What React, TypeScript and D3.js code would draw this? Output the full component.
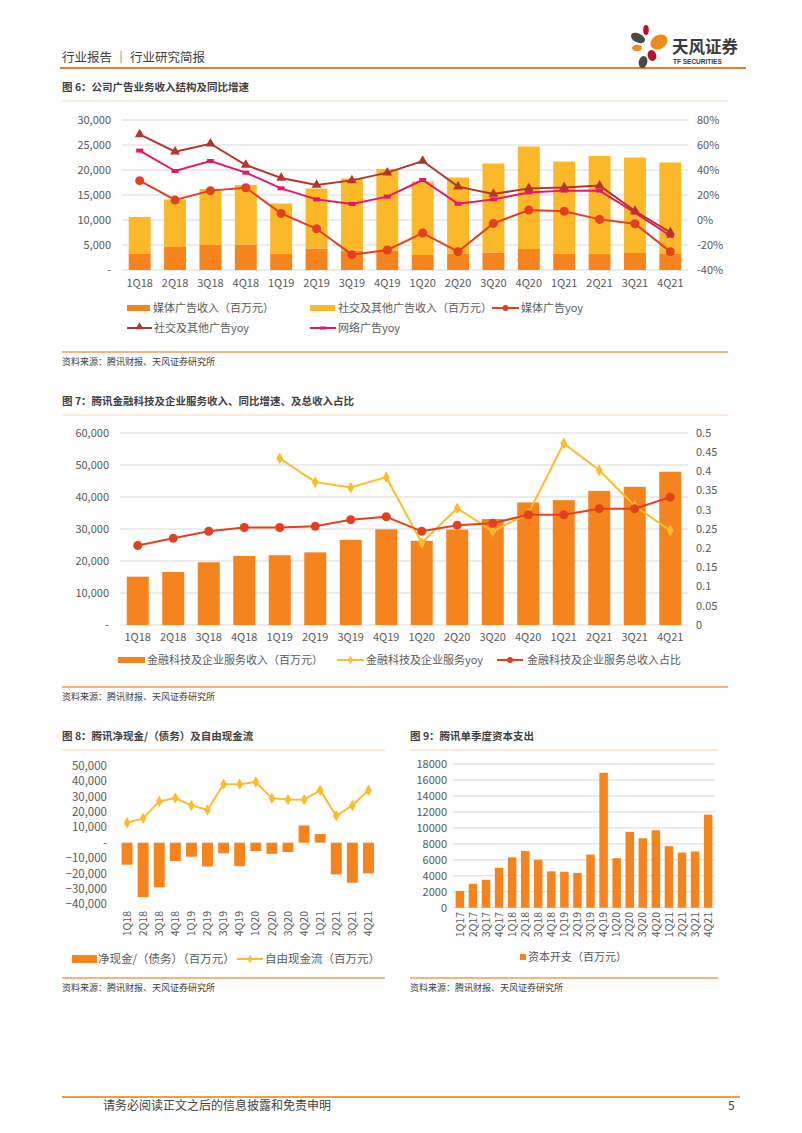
import React from "react";
import * as d3 from "d3";

// ---------- DATA ----------
const q16 = ["1Q18","2Q18","3Q18","4Q18","1Q19","2Q19","3Q19","4Q19","1Q20","2Q20","3Q20","4Q20","1Q21","2Q21","3Q21","4Q21"];
const q20 = ["1Q17","2Q17","3Q17","4Q17", ...q16];

// Fig 6
const mediaAdRev = [3200,4600,5000,5100,3300,4300,3900,3900,3000,3300,3500,4200,3300,3300,3400,3200];
const socialAdRev = [7400,9500,11200,11900,10000,12000,14400,16300,14700,15200,17800,20500,18400,19500,19100,18300];
const mediaAdYoy = [31.5,16,23.5,25.8,5.3,-7,-27.7,-24,-10.4,-25.3,-2.7,8,7,0.5,-3,-25.3];
const socialAdYoy = [68.5,54.7,61,44,33.6,28,31.7,37.9,47.2,26.7,20.8,25.3,26,27.5,7.2,-9.9];
const netAdYoy = [55.5,39.2,47.2,37.9,25.3,16.5,12.8,18.7,32,13,16.5,22,23.5,23.5,5.9,-12.6];
const fig6LeftTicks = [0,5000,10000,15000,20000,25000,30000];
const fig6RightTicks = [-40,-20,0,20,40,60,80];

// Fig 7
const fintechRev = [15100,16600,19600,21600,21800,22700,26600,29900,26300,29800,33100,38300,39000,41900,43200,47900];
const fintechYoy = [null,null,null,null,0.434,0.372,0.358,0.385,0.214,0.304,0.244,0.29,0.473,0.403,0.31,0.246];
const fintechShare = [0.207,0.226,0.244,0.254,0.254,0.257,0.274,0.282,0.244,0.26,0.265,0.287,0.287,0.303,0.303,0.333];
const fig7LeftTicks = [0,10000,20000,30000,40000,50000,60000];
const fig7RightTicks = [0,0.05,0.1,0.15,0.2,0.25,0.3,0.35,0.4,0.45,0.5];

// Fig 8
const netCash = [-14300,-35300,-29000,-11900,-9100,-15400,-6900,-15200,-5400,-7200,-6100,11200,5600,-20600,-26000,-19900];
const freeCashFlow = [13000,15800,26800,29000,24200,21200,38000,38000,39400,28800,28100,27900,34000,17500,24200,34000];
const fig8Ticks = [-40000,-30000,-20000,-10000,0,10000,20000,30000,40000,50000];

// Fig 9
const capex = [2100,3000,3500,5000,6300,7100,6000,4550,4500,4350,6650,16900,6200,9500,8700,9700,7700,6900,7050,11650];
const fig9Ticks = [0,2000,4000,6000,8000,10000,12000,14000,16000,18000];

// ---------- STYLE ----------
const FONT = "'Noto Sans CJK SC', 'Noto Sans', sans-serif";
const AX = "#595959";
const GRID = "#d9d9d9";
const ORANGE = "#f5841f";
const GOLD = "#fbb829";
const RED = "#e2401f";
const DARKRED = "#b2362b";
const PINK = "#e5176b";
const YELLOW = "#fbbd2b";
const fmt = (v: number) => (v === 0 ? "-" : d3.format(",")(v));

function Header() {
  return (
    <g>
      <text x={62} y={62} fontSize={12.5} fill="#404040" fontFamily={FONT}>行业报告 ｜ 行业研究简报</text>
      <line x1={60} x2={746} y1={68} y2={68} stroke="#e97c28" strokeWidth={2} />
      {/* logo */}
      <ellipse cx={638} cy={38} rx={7.5} ry={4.5} transform="rotate(25 638 38)" fill="#4a4a4a" />
      <ellipse cx={646} cy={30} rx={2.8} ry={5} fill="#b5122e" />
      <ellipse cx={659} cy={42} rx={9} ry={7} transform="rotate(-30 659 42)" fill="#f08a1d" />
      <ellipse cx={637} cy={48} rx={5} ry={3.3} fill="#f08a1d" />
      <ellipse cx={652} cy={55.5} rx={4.3} ry={5.5} transform="rotate(-20 652 55.5)" fill="#b5122e" />
      <ellipse cx={643} cy={62} rx={4.3} ry={6} transform="rotate(15 643 62)" fill="#4a4a4a" />
      <text x={672} y={53} fontSize={16.5} fontWeight={700} fill="#3a3a3a" fontFamily={FONT}>天风证券</text>
      <text x={673} y={64} fontSize={6.5} fontWeight={700} fill="#3a3a3a" fontFamily="'Liberation Sans', sans-serif">TF SECURITIES</text>
    </g>
  );
}

function Caption({ x, y, x2, text }: { x: number; y: number; x2: number; text: string }) {
  return (
    <g>
      <text x={x} y={y} fontSize={10.5} fontWeight={700} fill="#3f3f3f" fontFamily={FONT}>{text}</text>
      <line x1={x} x2={x2} y1={y + 10} y2={y + 10} stroke="#f8d2b0" strokeWidth={1} />
    </g>
  );
}

function Source({ x, y, x2 }: { x: number; y: number; x2: number }) {
  return (
    <g>
      <line x1={x} x2={x2} y1={y - 13} y2={y - 13} stroke="#f29a55" strokeWidth={1.5} />
      <text x={x} y={y} fontSize={9} fill="#404040" fontFamily={FONT}>资料来源：腾讯财报、天风证券研究所</text>
    </g>
  );
}

function Fig6() {
  const x = d3.scaleBand<string>().domain(q16).range([122, 688]).paddingInner(0.38).paddingOuter(0.19);
  const yL = d3.scaleLinear().domain([0, 30000]).range([270, 120]);
  const yR = d3.scaleLinear().domain([-40, 80]).range([270, 120]);
  const cx = (d: string) => (x(d) as number) + x.bandwidth() / 2;
  const line = d3.line<number>().x((_, i) => cx(q16[i])).y((v) => yR(v));
  const tri = d3.symbol(d3.symbolTriangle, 42)() as string;
  return (
    <g fontFamily={FONT}>
      <Caption x={62} y={91} x2={728} text="图 6：公司广告业务收入结构及同比增速" />
      {fig6LeftTicks.map((t) => (
        <g key={t}>
          <line x1={122} x2={688} y1={yL(t)} y2={yL(t)} stroke={GRID} strokeWidth={1} />
          <text x={111} y={yL(t)} dy="0.35em" textAnchor="end" fontSize={11} fill={AX}>{fmt(t)}</text>
        </g>
      ))}
      {fig6RightTicks.map((t) => (
        <text key={t} x={697} y={yR(t)} dy="0.35em" fontSize={11} fill={AX}>{t}%</text>
      ))}
      {q16.map((d, i) => (
        <g key={d}>
          <rect x={x(d)} width={x.bandwidth()} y={yL(mediaAdRev[i])} height={yL(0) - yL(mediaAdRev[i])} fill={ORANGE} />
          <rect x={x(d)} width={x.bandwidth()} y={yL(mediaAdRev[i] + socialAdRev[i])} height={yL(mediaAdRev[i]) - yL(mediaAdRev[i] + socialAdRev[i])} fill={GOLD} />
          <text x={cx(d)} y={283} dy="0.35em" textAnchor="middle" fontSize={11} fill={AX}>{d}</text>
        </g>
      ))}
      <path d={line(mediaAdYoy) as string} fill="none" stroke={RED} strokeWidth={2} />
      {mediaAdYoy.map((v, i) => <circle key={i} cx={cx(q16[i])} cy={yR(v)} r={4.5} fill={RED} />)}
      <path d={line(netAdYoy) as string} fill="none" stroke={PINK} strokeWidth={2} />
      {netAdYoy.map((v, i) => <rect key={i} x={cx(q16[i]) - 3.5} y={yR(v) - 2} width={7} height={4} fill={PINK} />)}
      <path d={line(socialAdYoy) as string} fill="none" stroke={DARKRED} strokeWidth={2} />
      {socialAdYoy.map((v, i) => <path key={i} d={tri} transform={`translate(${cx(q16[i])},${yR(v)})`} fill={DARKRED} />)}
      {/* legend */}
      <g fontSize={11} fill={AX}>
        <rect x={127} y={305} width={23} height={6} fill={ORANGE} />
        <text x={153} y={308} dy="0.35em">媒体广告收入（百万元）</text>
        <rect x={310} y={305} width={25} height={6} fill={GOLD} />
        <text x={338} y={308} dy="0.35em">社交及其他广告收入（百万元）</text>
        <line x1={492} x2={519} y1={308} y2={308} stroke={RED} strokeWidth={2} />
        <circle cx={505.5} cy={308} r={3} fill={RED} />
        <text x={521} y={308} dy="0.35em">媒体广告yoy</text>
        <line x1={127} x2={152} y1={328} y2={328} stroke={DARKRED} strokeWidth={2} />
        <path d={d3.symbol(d3.symbolTriangle, 28)() as string} transform="translate(139.5,327)" fill={DARKRED} />
        <text x={154} y={328} dy="0.35em">社交及其他广告yoy</text>
        <line x1={310} x2={336} y1={328} y2={328} stroke={PINK} strokeWidth={2} />
        <rect x={320} y={326.5} width={6} height={3} fill={PINK} />
        <text x={338} y={328} dy="0.35em">网络广告yoy</text>
      </g>
      <Source x={62} y={365} x2={728} />
    </g>
  );
}

function Fig7() {
  const x = d3.scaleBand<string>().domain(q16).range([120, 688]).paddingInner(0.38).paddingOuter(0.19);
  const yL = d3.scaleLinear().domain([0, 60000]).range([625, 433]);
  const yR = d3.scaleLinear().domain([0, 0.5]).range([625, 433]);
  const cx = (d: string) => (x(d) as number) + x.bandwidth() / 2;
  const line = d3.line<number | null>().defined((v) => v != null).x((_, i) => cx(q16[i])).y((v) => yR(v as number));
  const dia = d3.symbol(d3.symbolDiamond, 40)() as string;
  return (
    <g fontFamily={FONT}>
      <Caption x={62} y={405} x2={728} text="图 7：腾讯金融科技及企业服务收入、同比增速、及总收入占比" />
      {fig7LeftTicks.map((t) => (
        <g key={t}>
          <line x1={120} x2={688} y1={yL(t)} y2={yL(t)} stroke={GRID} strokeWidth={1} />
          <text x={109} y={yL(t)} dy="0.35em" textAnchor="end" fontSize={11} fill={AX}>{fmt(t)}</text>
        </g>
      ))}
      {fig7RightTicks.map((t) => (
        <text key={t} x={696} y={yR(t)} dy="0.35em" fontSize={11} fill={AX}>{String(+t.toFixed(2))}</text>
      ))}
      {q16.map((d, i) => (
        <g key={d}>
          <rect x={x(d)} width={x.bandwidth()} y={yL(fintechRev[i])} height={yL(0) - yL(fintechRev[i])} fill={ORANGE} />
          <text x={cx(d)} y={637} dy="0.35em" textAnchor="middle" fontSize={11} fill={AX}>{d}</text>
        </g>
      ))}
      <path d={line(fintechYoy) as string} fill="none" stroke={YELLOW} strokeWidth={2} />
      {fintechYoy.map((v, i) => v == null ? null : <path key={i} d={dia} transform={`translate(${cx(q16[i])},${yR(v)})`} fill={YELLOW} />)}
      <path d={line(fintechShare) as string} fill="none" stroke={RED} strokeWidth={2} />
      {fintechShare.map((v, i) => <circle key={i} cx={cx(q16[i])} cy={yR(v)} r={4.5} fill={RED} />)}
      <g fontSize={11} fill={AX}>
        <rect x={118} y={657} width={27} height={6} fill={ORANGE} />
        <text x={147} y={660} dy="0.35em">金融科技及企业服务收入（百万元）</text>
        <line x1={337} x2={364} y1={660} y2={660} stroke={YELLOW} strokeWidth={2} />
        <path d={d3.symbol(d3.symbolDiamond, 20)() as string} transform="translate(350.5,660)" fill={YELLOW} />
        <text x={366} y={660} dy="0.35em">金融科技及企业服务yoy</text>
        <line x1={497} x2={523} y1={660} y2={660} stroke={RED} strokeWidth={2} />
        <circle cx={510} cy={660} r={3} fill={RED} />
        <text x={527} y={660} dy="0.35em">金融科技及企业服务总收入占比</text>
      </g>
      <Source x={62} y={700} x2={728} />
    </g>
  );
}

function Fig8() {
  const x = d3.scaleBand<string>().domain(q16).range([119, 376.5]).paddingInner(0.32).paddingOuter(0.16);
  const y = d3.scaleLinear().domain([-40000, 50000]).range([904.3, 765.7]);
  const cx = (d: string) => (x(d) as number) + x.bandwidth() / 2;
  const line = d3.line<number>().x((_, i) => cx(q16[i])).y((v) => y(v));
  const dia = d3.symbol(d3.symbolDiamond, 38)() as string;
  return (
    <g fontFamily={FONT}>
      <Caption x={62} y={740} x2={385} text="图 8：腾讯净现金/（债务）及自由现金流" />
      {fig8Ticks.map((t) => (
        <text key={t} x={107} y={y(t)} dy="0.35em" textAnchor="end" fontSize={11.5} fill={AX}>{fmt(t)}</text>
      ))}
      {q16.map((d, i) => (
        <g key={d}>
          <rect x={x(d)} width={x.bandwidth()} y={y(Math.max(0, netCash[i]))} height={Math.abs(y(netCash[i]) - y(0))} fill={ORANGE} />
          <text transform={`translate(${cx(d)},911) rotate(-90)`} dy="0.35em" textAnchor="end" fontSize={10.5} fill={AX}>{d}</text>
        </g>
      ))}
      <path d={line(freeCashFlow) as string} fill="none" stroke={YELLOW} strokeWidth={2} />
      {freeCashFlow.map((v, i) => <path key={i} d={dia} transform={`translate(${cx(q16[i])},${y(v)})`} fill={YELLOW} />)}
      <g fontSize={11.5} fill={AX}>
        <rect x={72} y={955} width={25} height={8} fill={ORANGE} />
        <text x={98} y={959} dy="0.35em">净现金/（债务）（百万元）</text>
        <line x1={237} x2={263} y1={959} y2={959} stroke={YELLOW} strokeWidth={2} />
        <path d={d3.symbol(d3.symbolDiamond, 22)() as string} transform="translate(250,959)" fill={YELLOW} />
        <text x={265} y={959} dy="0.35em">自由现金流（百万元）</text>
      </g>
      <Source x={62} y={991} x2={385} />
    </g>
  );
}

function Fig9() {
  const x = d3.scaleBand<string>().domain(q20).range([453, 715]).paddingInner(0.35).paddingOuter(0.2);
  const y = d3.scaleLinear().domain([0, 18000]).range([907.7, 764]);
  const cx = (d: string) => (x(d) as number) + x.bandwidth() / 2;
  return (
    <g fontFamily={FONT}>
      <Caption x={410} y={740} x2={718} text="图 9：腾讯单季度资本支出" />
      {fig9Ticks.map((t) => (
        <g key={t}>
          <line x1={453} x2={715} y1={y(t)} y2={y(t)} stroke={GRID} strokeWidth={1} />
          <text x={447} y={y(t)} dy="0.35em" textAnchor="end" fontSize={11} fill={AX}>{t}</text>
        </g>
      ))}
      {q20.map((d, i) => (
        <g key={d}>
          <rect x={x(d)} width={x.bandwidth()} y={y(capex[i])} height={y(0) - y(capex[i])} fill={ORANGE} />
          <text transform={`translate(${cx(d)},912) rotate(-90)`} dy="0.35em" textAnchor="end" fontSize={10.5} fill={AX}>{d}</text>
        </g>
      ))}
      <rect x={520} y={954} width={6} height={6} fill={ORANGE} />
      <text x={528} y={957} dy="0.35em" fontSize={11} fill={AX}>资本开支（百万元）</text>
      <Source x={410} y={991} x2={718} />
    </g>
  );
}

function Footer() {
  return (
    <g fontFamily={FONT}>
      <line x1={62} x2={740} y1={1097} y2={1097} stroke="#e8a23c" strokeWidth={2} />
      <text x={103} y={1110} fontSize={12} fill="#404040">请务必阅读正文之后的信息披露和免责申明</text>
      <text x={728} y={1110} fontSize={12} fill="#404040">5</text>
    </g>
  );
}

export default function App() {
  return (
    <svg width={802} height={1133} style={{ position: "absolute", left: 0, top: 0, background: "#fff" }}>
      <rect width={802} height={1133} fill="#fff" />
      <Header />
      <Fig6 />
      <Fig7 />
      <Fig8 />
      <Fig9 />
      <Footer />
    </svg>
  );
}
